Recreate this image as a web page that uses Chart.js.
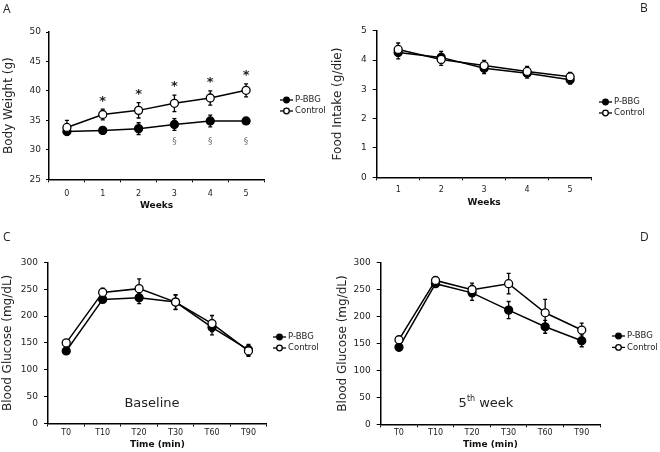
<!DOCTYPE html>
<html>
<head>
<meta charset="utf-8">
<script src="https://cdn.jsdelivr.net/npm/chart.js@4.4.0/dist/chart.umd.min.js"></script>
<style>
body { margin: 0; background: #fff; width: 660px; height: 452px; position: relative; overflow: hidden; font-family: "DejaVu Sans", sans-serif; color: #222; }
canvas { position: absolute; }
.tag { position: absolute; font: 12px "Open Sans", sans-serif; line-height: 1; }
.note { position: absolute; font: 13px "DejaVu Sans", sans-serif; line-height: 1; transform: translate(-50%, -50%); white-space: nowrap; }
.note sup { font-size: 8px; }
</style>
</head>
<body>
<canvas id="chartA" width="330" height="215" style="left:0;top:0"></canvas>
<canvas id="chartB" width="330" height="215" style="left:330px;top:0"></canvas>
<canvas id="chartC" width="330" height="227" style="left:0;top:225px"></canvas>
<canvas id="chartD" width="330" height="227" style="left:330px;top:225px"></canvas>
<div class="tag" style="left:3px;top:3px">A</div>
<div class="tag" style="left:640px;top:2px">B</div>
<div class="tag" style="left:3px;top:231px">C</div>
<div class="tag" style="left:640px;top:231px">D</div>
<div class="note" style="left:152px;top:402px">Baseline</div>
<div class="note" style="left:486px;top:402px">5<sup>th</sup> week</div>
<script>
// Panel A - body weight
const weeksA = ['0', '1', '2', '3', '4', '5'];
const weightPBBG = [33.1, 33.3, 33.6, 34.3, 34.9, 34.9];
const weightPBBGErr = [0.6, 0.6, 1.0, 1.0, 1.0, 0.3];
const weightControl = [33.8, 36.0, 36.7, 37.9, 38.8, 40.1];
const weightControlErr = [1.2, 0.9, 1.3, 1.4, 1.2, 1.1];
const starWeeks = ['1', '2', '3', '4', '5'];
const sectionWeeks = ['3', '4', '5'];
const sectionLevel = 31.4;

// Panel B - food intake
const weeksB = ['1', '2', '3', '4', '5'];
const intakePBBG = [4.26, 4.09, 3.72, 3.55, 3.33];
const intakePBBGErr = [0.22, 0.2, 0.18, 0.17, 0.15];
const intakeControl = [4.36, 4.02, 3.81, 3.61, 3.43];
const intakeControlErr = [0.22, 0.2, 0.18, 0.17, 0.15];

// Panels C and D - glucose tolerance
const times = ['T0', 'T10', 'T20', 'T30', 'T60', 'T90'];
const baselinePBBG = [135, 231, 234, 226, 179, 137];
const baselinePBBGErr = [5, 5, 11, 13, 14, 10];
const baselineControl = [150, 244, 251, 226, 186, 135];
const baselineControlErr = [5, 8, 18, 14, 15, 10];
const week5PBBG = [143, 261, 244, 212, 181, 155];
const week5PBBGErr = [6, 4, 14, 16, 12, 11];
const week5Control = [157, 267, 250, 261, 207, 175];
const week5ControlErr = [4, 5, 12, 19, 25, 13];

const groupNames = ['P-BBG', 'Control'];

// error bars, drawn under the markers
const errorBars = {
    id: 'errorBars',
    beforeDatasetsDraw(chart) {
        const ctx = chart.ctx;
        const y = chart.scales.y;
        ctx.save();
        ctx.strokeStyle = '#000';
        ctx.lineWidth = 1.3;
        chart.data.datasets.forEach((ds, i) => {
            chart.getDatasetMeta(i).data.forEach((pt, j) => {
                const e = ds.errors[j];
                if (!e) return;
                const top = y.getPixelForValue(ds.data[j] + e);
                const bot = y.getPixelForValue(ds.data[j] - e);
                ctx.beginPath();
                ctx.moveTo(pt.x, top); ctx.lineTo(pt.x, bot);
                ctx.moveTo(pt.x - 2, top); ctx.lineTo(pt.x + 2, top);
                ctx.moveTo(pt.x - 2, bot); ctx.lineTo(pt.x + 2, bot);
                ctx.stroke();
            });
        });
        ctx.restore();
    }
};

// small legend: line with marker + label
const miniLegend = {
    id: 'miniLegend',
    afterDraw(chart, args, opts) {
        const ctx = chart.ctx;
        ctx.save();
        chart.data.datasets.forEach((ds, i) => {
            const y = opts.y + i * opts.gap;
            ctx.strokeStyle = '#000';
            ctx.lineWidth = 1.3;
            ctx.beginPath();
            ctx.moveTo(opts.x, y); ctx.lineTo(opts.x + 13, y);
            ctx.stroke();
            ctx.beginPath();
            ctx.arc(opts.x + 6.5, y, 2.8, 0, Math.PI * 2);
            ctx.fillStyle = ds.pointBackgroundColor;
            ctx.fill();
            ctx.stroke();
            ctx.fillStyle = '#222';
            ctx.font = '8.5px "DejaVu Sans"';
            ctx.textBaseline = 'middle';
            ctx.fillText(ds.label, opts.x + 15, y);
        });
        ctx.restore();
    }
};

// significance marks for panel A
const sigMarks = {
    id: 'sigMarks',
    afterDatasetsDraw(chart) {
        const ctx = chart.ctx;
        const {x, y} = chart.scales;
        ctx.save();
        ctx.textAlign = 'center';
        ctx.textBaseline = 'middle';
        ctx.fillStyle = '#222';
        ctx.font = 'bold 13px "DejaVu Sans"';
        starWeeks.forEach(w => {
            const j = weeksA.indexOf(w);
            const top = y.getPixelForValue(weightControl[j] + weightControlErr[j]);
            ctx.fillText('*', x.getPixelForValue(j), top - 8);
        });
        ctx.fillStyle = '#777';
        ctx.font = '9px "DejaVu Sans"';
        sectionWeeks.forEach(w => {
            ctx.fillText('§', x.getPixelForValue(weeksA.indexOf(w)), y.getPixelForValue(sectionLevel));
        });
        ctx.restore();
    }
};

function series(values, errors, filled) {
    return {
        label: filled ? groupNames[0] : groupNames[1],
        data: values,
        errors: errors,
        order: filled ? 1 : 0,
        borderColor: '#000',
        borderWidth: 1.5,
        pointRadius: 4,
        pointBorderWidth: 1.3,
        pointBorderColor: '#000',
        pointBackgroundColor: filled ? '#000' : '#fff',
        tension: 0
    };
}

function makeChart(id, labels, datasets, o) {
    return new Chart(document.getElementById(id), {
        type: 'line',
        data: { labels: labels, datasets: datasets },
        options: {
            responsive: false,
            animation: false,
            events: [],
            layout: { padding: o.padding },
            plugins: {
                legend: { display: false },
                tooltip: { enabled: false },
                miniLegend: o.legend
            },
            scales: {
                x: {
                    offset: true,
                    grid: { offset: true, drawOnChartArea: false, tickLength: 3, color: '#000', lineWidth: 1 },
                    border: { color: '#000', width: 1.5 },
                    ticks: { color: '#222', font: { family: 'DejaVu Sans', size: 8 }, padding: o.xPad, maxRotation: 0 },
                    title: { display: true, text: o.xTitle, color: '#111', font: { family: 'DejaVu Sans', size: 9, weight: 'bold' }, padding: 0 },
                    afterFit(s) { s.height = o.xHeight; }
                },
                y: {
                    min: o.min, max: o.max,
                    grid: { drawOnChartArea: false, tickLength: o.yTick, color: '#000', lineWidth: 1 },
                    border: { color: '#000', width: 1.5 },
                    ticks: { stepSize: o.step, color: '#222', font: { family: 'DejaVu Sans', size: 9 }, padding: o.yPad },
                    title: { display: true, text: o.yTitle, color: '#222', font: { family: 'DejaVu Sans', size: 12 }, padding: { top: o.titlePad, bottom: 0 } },
                    afterFit(s) { s.width = o.yWidth; }
                }
            }
        },
        plugins: o.extra ? [errorBars, miniLegend, o.extra] : [errorBars, miniLegend]
    });
}

makeChart('chartA', weeksA,
    [series(weightPBBG, weightPBBGErr, true), series(weightControl, weightControlErr, false)],
    { padding: { left: 0, top: 32, right: 66, bottom: 3.6 }, xPad: 6.5, xHeight: 32.1, xTitle: 'Weeks',
      min: 25, max: 50, step: 5, yTick: 3, yPad: 5, yTitle: 'Body Weight (g)', titlePad: 1.5, yWidth: 49,
      legend: { x: 280, y: 100, gap: 11 }, extra: sigMarks });

makeChart('chartB', weeksB,
    [series(intakePBBG, intakePBBGErr, true), series(intakeControl, intakeControlErr, false)],
    { padding: { left: 0, top: 30.7, right: 68.4, bottom: 7.3 }, xPad: 5, xHeight: 30.4, xTitle: 'Weeks',
      min: 0, max: 5, step: 1, yTick: 4, yPad: 6, yTitle: 'Food Intake (g/die)', titlePad: 1.1, yWidth: 46.7,
      legend: { x: 269, y: 102, gap: 11 } });

makeChart('chartC', times,
    [series(baselinePBBG, baselinePBBGErr, true), series(baselineControl, baselineControlErr, false)],
    { padding: { left: 0, top: 37.3, right: 63.3, bottom: 2.3 }, xPad: 1.3, xHeight: 26.2, xTitle: 'Time (min)',
      min: 0, max: 300, step: 50, yTick: 4, yPad: 6, yTitle: 'Blood Glucose (mg/dL)', titlePad: 1.1, yWidth: 48,
      legend: { x: 273, y: 112, gap: 11 } });

makeChart('chartD', times,
    [series(week5PBBG, week5PBBGErr, true), series(week5Control, week5ControlErr, false)],
    { padding: { left: 0, top: 37.7, right: 60, bottom: 2.3 }, xPad: 0.5, xHeight: 25.4, xTitle: 'Time (min)',
      min: 0, max: 300, step: 50, yTick: 4, yPad: 6, yTitle: 'Blood Glucose (mg/dL)', titlePad: 5.5, yWidth: 50.7,
      legend: { x: 282, y: 111, gap: 11.4 } });
</script>
</body>
</html>
